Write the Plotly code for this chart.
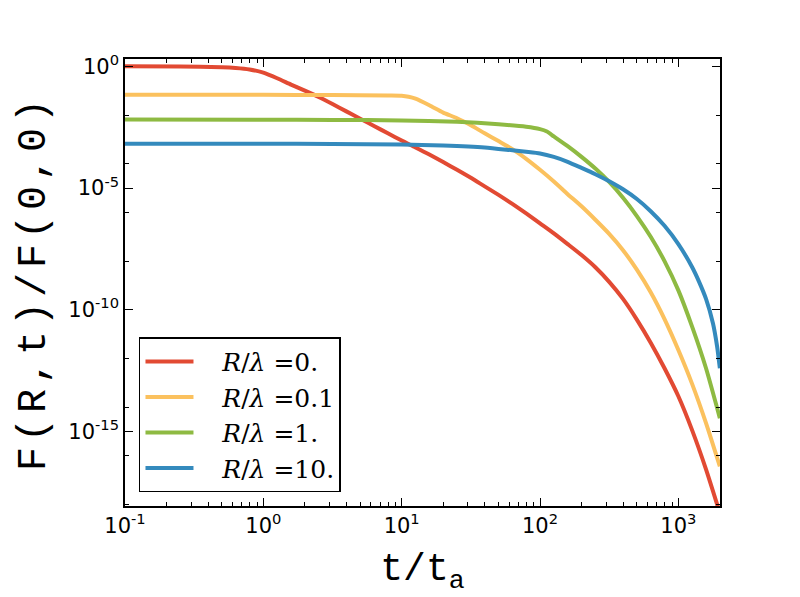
import numpy as np
import plotly.graph_objects as go

# ---- data (stored as log10 exponents) ----
series_names = ["<i>R</i>/<i>λ</i> =0.", "<i>R</i>/<i>λ</i> =0.1",
                "<i>R</i>/<i>λ</i> =1.", "<i>R</i>/<i>λ</i> =10."]
series_colors = ["#E24A33", "#FBC15E", "#8EBA42", "#348ABD"]

red_log_t = [-1, -0.6, -0.3, -0.2, -0.1, 0, 0.1, 0.2, 0.3, 0.4, 0.5, 0.6, 0.7,
             0.8, 0.9, 1.0, 1.1, 1.2, 1.3, 1.4, 1.5, 1.6, 1.7, 1.8, 1.9, 2.0,
             2.1, 2.2, 2.3, 2.4, 2.5, 2.6, 2.7, 2.8, 2.9, 3.0, 3.1, 3.2, 3.3]
red_log_F = [0, -0.01, -0.04, -0.07, -0.13, -0.26, -0.49, -0.75, -1.0, -1.26,
             -1.55, -1.85, -2.15, -2.45, -2.75, -3.05, -3.33, -3.62, -3.93,
             -4.25, -4.58, -4.93, -5.28, -5.65, -6.04, -6.45, -6.86, -7.3,
             -7.75, -8.25, -8.85, -9.55, -10.4, -11.35, -12.4, -13.55, -14.95,
             -16.55, -18.35]

yellow_log_t = [-1, 0, 0.5, 0.9, 1.0, 1.05, 1.1, 1.2, 1.3, 1.4, 1.5, 1.6, 1.7,
                1.8, 1.9, 2.0, 2.1, 2.2, 2.3, 2.4, 2.5, 2.6, 2.7, 2.8, 2.9,
                3.0, 3.1, 3.2, 3.3]
yellow_log_F = [-1.17, -1.17, -1.18, -1.2, -1.21, -1.25, -1.33, -1.6, -1.9,
                -2.13, -2.42, -2.75, -3.07, -3.4, -3.8, -4.25, -4.73, -5.25,
                -5.75, -6.3, -6.88, -7.55, -8.35, -9.28, -10.38, -11.65,
                -13.05, -14.65, -16.43]

green_log_t = [-1, 0, 0.5, 1.0, 1.4, 1.7, 1.9, 2.0, 2.05, 2.1, 2.2, 2.3, 2.4,
               2.5, 2.6, 2.7, 2.8, 2.9, 3.0, 3.1, 3.2, 3.3]
green_log_F = [-2.18, -2.19, -2.2, -2.22, -2.28, -2.38, -2.48, -2.58, -2.68,
               -2.88, -3.28, -3.72, -4.2, -4.75, -5.4, -6.15, -7.0, -8.0, -9.2,
               -10.7, -12.4, -14.45]

blue_log_t = [-1, 0, 0.5, 1.0, 1.3, 1.6, 1.8, 1.9, 2.0, 2.1, 2.2, 2.3, 2.4, 2.5,
              2.6, 2.7, 2.8, 2.9, 3.0, 3.1, 3.15, 3.2, 3.25, 3.28, 3.3]
blue_log_F = [-3.18, -3.18, -3.19, -3.21, -3.25, -3.33, -3.45, -3.51, -3.58,
              -3.72, -3.92, -4.17, -4.43, -4.72, -5.05, -5.45, -5.95, -6.55,
              -7.3, -8.25, -8.85, -9.55, -10.55, -11.5, -12.4]

x_tick_exps = [-1, 0, 1, 2, 3]
y_tick_exps = [0, -5, -10, -15]
y_minor_exps = [-2, -4, -6, -8, -12, -14, -16, -18]

all_series = [(red_log_t, red_log_F), (yellow_log_t, yellow_log_F),
              (green_log_t, green_log_F), (blue_log_t, blue_log_F)]

fig = go.Figure()
for (lt, lf), name, col in zip(all_series, series_names, series_colors):
    fig.add_trace(go.Scatter(
        x=10.0 ** np.array(lt), y=10.0 ** np.array(lf), mode="lines",
        name="&nbsp;&nbsp;&nbsp;" + name,
        line=dict(color=col, width=4, shape="spline", smoothing=0.6)))

x_minor = [m * 10.0 ** e for e in range(-1, 4) for m in range(2, 10)]

tickfont = dict(family="DejaVu Sans", size=21, color="black")
axis_common = dict(showgrid=False, zeroline=False, showline=True,
                   linecolor="black", linewidth=1.5, mirror="allticks",
                   ticks="inside", ticklen=8, tickwidth=1.2, tickcolor="black",
                   tickfont=tickfont)

fig.update_xaxes(
    type="log", range=[-1, np.log10(2000)],
    tickmode="array", tickvals=[10.0 ** e for e in x_tick_exps],
    ticktext=[f"10<sup>{e}</sup>" for e in x_tick_exps],
    minor=dict(tickmode="array", tickvals=x_minor, ticks="inside",
               ticklen=4, tickwidth=1, tickcolor="black"),
    title=dict(text="t/t<sub>a</sub>", standoff=16,
               font=dict(family="Liberation Mono, DejaVu Sans Mono", size=38,
                         color="black")),
    **axis_common)

fig.update_yaxes(
    type="log", range=[-18.056, np.log10(2)],
    tickmode="array", tickvals=[10.0 ** e for e in y_tick_exps],
    ticktext=[f"10<sup>{e}</sup>" for e in y_tick_exps],
    minor=dict(tickmode="array", tickvals=[10.0 ** e for e in y_minor_exps],
               ticks="inside", ticklen=4, tickwidth=1, tickcolor="black"),
    title=dict(text="<span style='letter-spacing:5px'>F(R,t)/F(0,0)</span>",
               standoff=10,
               font=dict(family="Liberation Mono, DejaVu Sans Mono", size=40,
                         color="black")),
    **axis_common)

fig.update_layout(
    width=800, height=597,
    margin=dict(l=125, r=80, t=59, b=91, autoexpand=False),
    paper_bgcolor="white", plot_bgcolor="white",
    showlegend=True,
    legend=dict(x=0.0235, y=0.031, xanchor="left", yanchor="bottom",
                bgcolor="white", bordercolor="black", borderwidth=1.5,
                font=dict(family="DejaVu Serif", size=25, color="black"),
                itemwidth=48, tracegroupgap=0),
)

fig.write_html("out.html")
